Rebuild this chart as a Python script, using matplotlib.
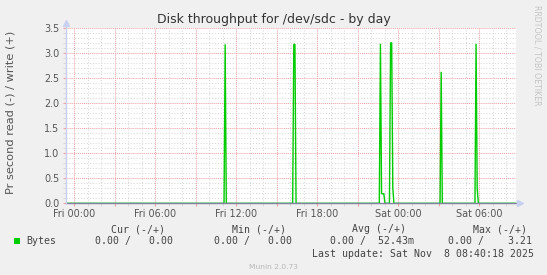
import matplotlib
matplotlib.use("Agg")
import matplotlib.pyplot as plt
from matplotlib.ticker import MultipleLocator, FixedLocator, FixedFormatter, FormatStrFormatter

# ---- data (hours since Fri 00:00, write bytes/s) ----
times = [-0.6,
         11.083, 11.167, 11.25,
         16.167, 16.25, 16.333, 16.417,
         22.583, 22.667, 22.75, 22.833, 22.917, 23.0,
         23.333, 23.417, 23.5, 23.583, 23.667,
         27.083, 27.167, 27.25,
         29.667, 29.75, 29.833, 29.917,
         32.67]
values = [0.0,
          0.0, 3.18, 0.0,
          0.0, 3.18, 3.18, 0.0,
          0.0, 3.19, 0.19, 0.19, 0.19, 0.0,
          0.0, 3.21, 3.21, 0.30, 0.0,
          0.0, 2.63, 0.0,
          0.0, 3.19, 0.30, 0.0,
          0.0]

xtick_pos = [0, 6, 12, 18, 24, 30]
xtick_labels = ["Fri 00:00", "Fri 06:00", "Fri 12:00", "Fri 18:00", "Sat 00:00", "Sat 06:00"]

title = "Disk throughput for /dev/sdc - by day"
ylabel = "Pr second read (-) / write (+)"
series_name = "Bytes"
legend_headers = ["Cur (-/+)", "Min (-/+)", "Avg (-/+)", "Max (-/+)"]
legend_values = ["0.00 /   0.00", "0.00 /   0.00", "0.00 /  52.43m", "0.00 /    3.21"]
last_update = "Last update: Sat Nov  8 08:40:18 2025"

W, H = 547, 275
fig = plt.figure(figsize=(W / 100, H / 100), dpi=100, facecolor="#F0F0F0")
ax = fig.add_axes([66.3 / W, 1 - 203.3 / H, 450 / W, 175 / H])
ax.set_facecolor("#FFFFFF")

ax.set_xlim(-0.6, 32.73)
ax.set_ylim(0, 3.5)

# grid
ax.xaxis.set_minor_locator(MultipleLocator(1))
ax.yaxis.set_major_locator(MultipleLocator(0.5))
ax.yaxis.set_minor_locator(MultipleLocator(0.1))
ax.grid(which="minor", color="#D4D4D4", linestyle=(0, (1, 2)), linewidth=0.7)
ax.grid(which="major", color="#F0A0A0", linestyle=(0, (1, 1)), linewidth=0.7)
ax.set_axisbelow(True)

lbls = []
for h in range(0, 33, 3):
    lbls.append(xtick_labels[xtick_pos.index(h)] if h in xtick_pos else "")
ax.xaxis.set_major_locator(FixedLocator(list(range(0, 33, 3))))
ax.xaxis.set_major_formatter(FixedFormatter(lbls))
ax.yaxis.set_major_formatter(FormatStrFormatter("%.1f"))

ax.tick_params(axis="both", which="major", length=2, color="#F0A0A0",
               labelsize=6.9, labelcolor="#555555", pad=2)
ax.tick_params(axis="both", which="minor", length=2, color="#D4D4D4")
ax.tick_params(axis="y", pad=3)

for s in ax.spines.values():
    s.set_visible(False)

# series
ax.plot(times, values, color="#00CC00", linewidth=1.0, solid_joinstyle="miter", zorder=3)

# axes lines and arrows
ax.plot([0, 1.006], [0, 0], transform=ax.transAxes, color="#8080A0",
        linewidth=1.0, clip_on=False, zorder=4)
ax.plot([0, 0], [0, 1.03], transform=ax.transAxes, color="#C8D0F0",
        linewidth=1.0, clip_on=False, zorder=4)
ax.plot([0], [1.03], marker="^", markersize=4, color="#C8D0F0",
        transform=ax.transAxes, clip_on=False, zorder=4)
ax.plot([1.008], [0], marker=">", markersize=4, color="#C8D0F0",
        transform=ax.transAxes, clip_on=False, zorder=4)

# texts
fig.text(273.5 / W, 1 - 19.5 / H, title, ha="center", va="center",
         fontsize=9, color="#333333")
fig.text(11 / W, 1 - 112.5 / H, ylabel, ha="center", va="center",
         rotation=90, fontsize=8.2, color="#555555")
fig.text(537 / W, 1 - 5 / H, "RRDTOOL / TOBI OETIKER", ha="center", va="top",
         rotation=270, fontsize=5.7, color="#C4C4C4")
fig.text(273 / W, 1 - 267 / H, "Munin 2.0.73", ha="center", va="center",
         fontsize=5.4, color="#B8B8B8")

mono = "DejaVu Sans Mono"
fs = 7.1
tc = "#444444"
header_x = [111, 232, 352, 473]
value_x = [95, 213.5, 330, 448]
for hx, t in zip(header_x, legend_headers):
    fig.text(hx / W, 1 - 229.2 / H, t, ha="left", va="center",
             family=mono, fontsize=fs, color=tc)
for vx, t in zip(value_x, legend_values):
    fig.text(vx / W, 1 - 241.4 / H, t, ha="left", va="center",
             family=mono, fontsize=fs, color=tc)
fig.text(26 / W, 1 - 241.4 / H, series_name, ha="left", va="center",
         family=mono, fontsize=fs, color=tc)
fig.text(311.6 / W, 1 - 254.3 / H, last_update, ha="left", va="center",
         family=mono, fontsize=fs, color=tc)
fig.patches.append(plt.Rectangle((14 / W, 1 - 243.5 / H), 6 / W, 6 / H,
                                 transform=fig.transFigure, facecolor="#00CC00",
                                 edgecolor="none"))

fig.savefig("out.png", dpi=100, facecolor=fig.get_facecolor())
